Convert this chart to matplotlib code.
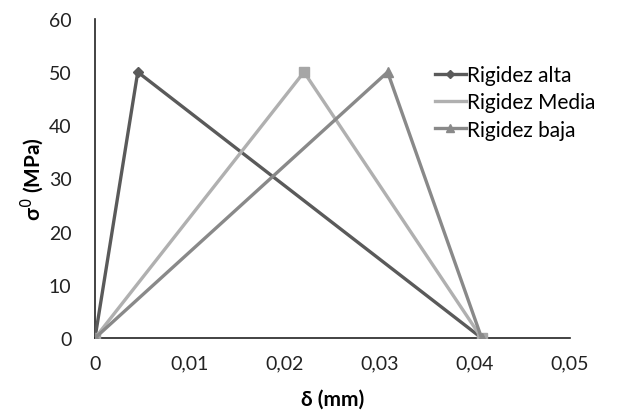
import matplotlib
matplotlib.use("Agg")
import matplotlib.pyplot as plt
from matplotlib.lines import Line2D

plt.rcParams['font.family'] = ['Lato', 'DejaVu Sans']

# data
x_alta = [0, 0.0045, 0.0407]
x_media = [0, 0.0220, 0.0407]
x_baja = [0, 0.0308, 0.0407]
y_vals = [0, 50, 0]

x_ticks = [0, 0.01, 0.02, 0.03, 0.04, 0.05]
x_ticklabels = ['0', '0,01', '0,02', '0,03', '0,04', '0,05']
y_ticks = [0, 10, 20, 30, 40, 50, 60]

c_alta, c_media, c_baja = '#5a5a5a', '#b0b0b0', '#898989'

fig = plt.figure(figsize=(6.25, 4.14), dpi=100)
ax = fig.add_axes([0.152, 0.181, 0.76, 0.771])

ax.plot(x_alta, y_vals, color=c_alta, marker='D', markersize=5, lw=2.4)
ax.plot(x_media, y_vals, color=c_media, marker='s', markersize=7,
        markerfacecolor='#a6a6a6', markeredgecolor='#a6a6a6', lw=2.4)
ax.plot(x_baja, y_vals, color=c_baja, marker='^', markersize=7, lw=2.4)

ax.set_xlim(0, 0.05)
ax.set_ylim(0, 60)
ax.set_xticks(x_ticks)
ax.set_xticklabels(x_ticklabels)
ax.set_yticks(y_ticks)
ax.tick_params(length=0, labelsize=14, colors='#222222')
ax.tick_params(axis='x', pad=12)
ax.tick_params(axis='y', pad=17)

for s in ['top', 'right']:
    ax.spines[s].set_visible(False)
for s in ['left', 'bottom']:
    ax.spines[s].set_color('#222222')
    ax.spines[s].set_linewidth(1.2)
    ax.spines[s].set_zorder(0)

ax.set_xlabel('δ (mm)', fontsize=15, fontweight='bold', labelpad=12)
ax.set_ylabel('σ$^0$ (MPa)', fontsize=15, fontweight='bold', labelpad=2)

handles = [
    Line2D([], [], color=c_alta, marker='D', markersize=4, lw=2.4),
    Line2D([], [], color=c_media, lw=2.4),
    Line2D([], [], color=c_baja, marker='^', markersize=6, lw=2.4),
]
labels = ['Rigidez alta', 'Rigidez Media', 'Rigidez baja']
ax.legend(handles, labels, loc='upper left', bbox_to_anchor=(0.715, 0.855), frameon=False,
          fontsize=15, handlelength=1.5, handletextpad=0.05, labelspacing=0.35,
          borderaxespad=0, borderpad=0)

fig.savefig('out.png', dpi=100)
